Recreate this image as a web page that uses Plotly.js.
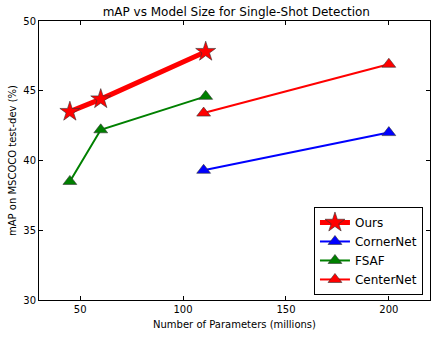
<!DOCTYPE html>
<html>
<head>
<meta charset="utf-8">
<script src="https://cdn.plot.ly/plotly-3.0.1.min.js"></script>
<style>
  html, body { margin: 0; padding: 0; background: #fff; }
  #plot { width: 436px; height: 337px; }
</style>
</head>
<body>
<div id="plot"></div>
<script>
// parameter counts (millions) and mAP for each detector
let oursParams = [45, 60, 111];
let oursMap = [43.5, 44.4, 47.8];

let cornerParams = [110, 200];
let cornerMap = [39.3, 42.0];

let fsafParams = [45, 60, 111];
let fsafMap = [38.5, 42.2, 44.6];

let centerParams = [110, 200];
let centerMap = [43.4, 46.9];

let edge = {color: "#333", width: 0.6};

// make the traces
let ours = {
    x: oursParams, y: oursMap, name: "Ours",
    mode: "lines+markers",
    line: {color: "red", width: 5},
    marker: {symbol: "star", size: 15, color: "red", line: edge}
};

let cornerNet = {
    x: cornerParams, y: cornerMap, name: "CornerNet",
    mode: "lines+markers",
    line: {color: "blue", width: 2},
    marker: {symbol: "triangle-up", size: 12, color: "blue", line: edge}
};

let fsaf = {
    x: fsafParams, y: fsafMap, name: "FSAF",
    mode: "lines+markers",
    line: {color: "green", width: 2},
    marker: {symbol: "triangle-up", size: 12, color: "green", line: edge}
};

let centerNet = {
    x: centerParams, y: centerMap, name: "CenterNet",
    mode: "lines+markers",
    line: {color: "red", width: 2},
    marker: {symbol: "triangle-up", size: 12, color: "red", line: edge}
};

let data = [ours, cornerNet, fsaf, centerNet];

let axisStyle = {
    showgrid: false, zeroline: false,
    showline: true, linecolor: "black", linewidth: 1, mirror: "allticks",
    ticks: "inside", ticklen: 4, tickcolor: "black",
    tickfont: {size: 10, color: "black"}
};

let layout = {
    width: 436, height: 337,
    margin: {l: 39, r: 6, t: 21, b: 37},
    font: {family: "DejaVu Sans", color: "black"},
    paper_bgcolor: "white", plot_bgcolor: "white",
    title: {text: "mAP vs Model Size for Single-Shot Detection", font: {size: 12},
            x: 0.542, xanchor: "center", y: 0.965, yanchor: "middle"},
    xaxis: Object.assign({}, axisStyle, {
        range: [30, 220], tickvals: [50, 100, 150, 200],
        title: {text: "Number of Parameters (millions)", font: {size: 10}, standoff: 6}
    }),
    yaxis: Object.assign({}, axisStyle, {
        range: [30, 50], tickvals: [30, 35, 40, 45, 50],
        title: {text: "mAP on MSCOCO test-dev (%)", font: {size: 10}, standoff: 4}
    }),
    showlegend: true,
    legend: {
        x: 0.982, y: 0.018, xanchor: "right", yanchor: "bottom",
        bgcolor: "white", bordercolor: "black", borderwidth: 1,
        font: {size: 12}, itemwidth: 30
    }
};

Plotly.newPlot("plot", data, layout, {displayModeBar: false});
</script>
</body>
</html>
